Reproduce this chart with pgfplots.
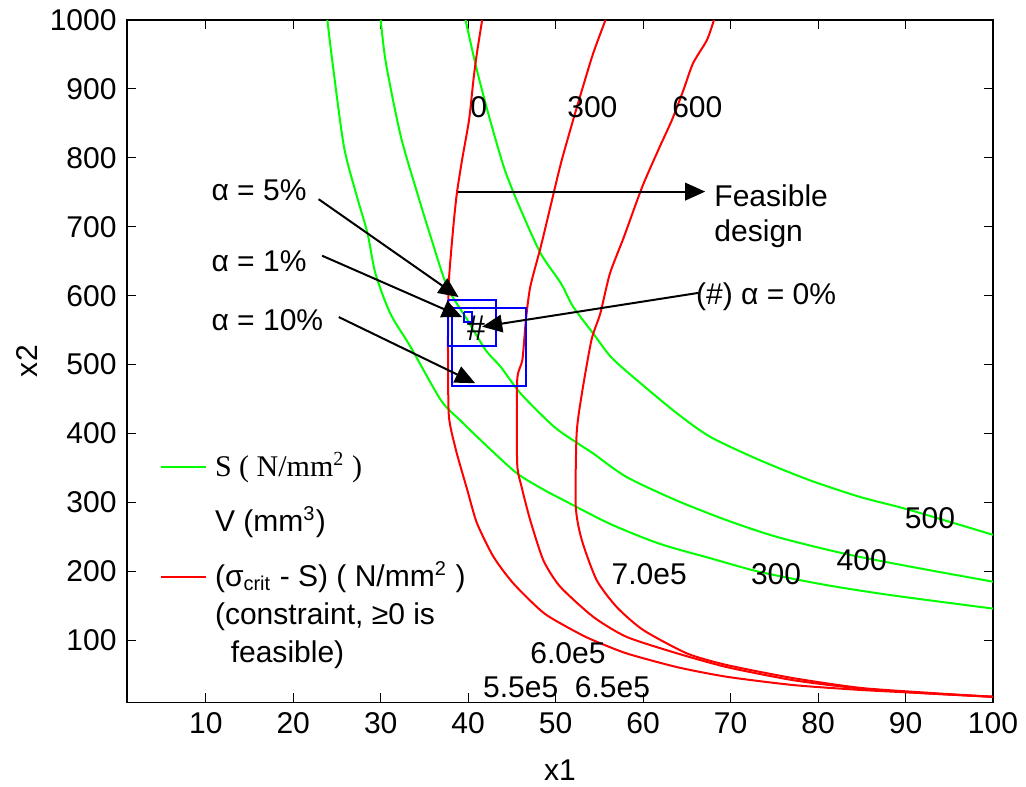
\documentclass[border=0pt]{standalone}
\usepackage{fontspec}
\setmainfont{Liberation Sans}
\newfontfamily\seriffont{Liberation Serif}
\usepackage{pgfplots}
\pgfplotsset{compat=1.18}
\usetikzlibrary{arrows.meta}
\definecolor{sgreen}{RGB}{0,255,0}
\definecolor{cred}{RGB}{255,0,0}
\definecolor{bblue}{RGB}{0,0,255}

\begin{document}
\fontsize{12}{14}\selectfont
\begin{tikzpicture}[
  ann/.style={black, line width=0.8pt, -{Triangle[length=8pt,width=7pt]}},
]
\begin{axis}[
  scale only axis,
  width=346.2pt, height=272.8pt,
  xmin=1, xmax=100, ymin=10, ymax=1000,
  xtick={10,20,...,100}, ytick={100,200,...,1000},
  tick align=inside, tick pos=both,
  major tick length=3.6pt,
  tick style={black, line width=0.4pt},
  axis line style={black, line width=0.5pt},
  font=\fontsize{12}{14}\selectfont,
  /pgf/number format/assume math mode=true,
  /pgf/number format/set thousands separator={},
  xlabel={x1}, ylabel={x2},
  xlabel style={at={(axis description cs:0.5,-0.0997)}, anchor=center},
  ylabel style={at={(axis description cs:-0.1155,0.5)}, anchor=center},
  clip=false,
  every axis plot/.append style={line width=0.8pt},
]
% S contours (green)
\addplot[sgreen, smooth, tension=0.45] coordinates {
(23.9,1000)(24.5,937)(25.8,816)(27.3,743)(28.5,690)(29.4,632)(31.1,574)(33.4,526)
(36.9,448)(39.1,419)(42.2,381)(45.6,342)(48.7,318)(50.5,306)(56.2,269)(61.9,240)
(67.7,219)(73.4,199)(81.0,180)(88.6,165)(100,146)};
\addplot[sgreen, smooth, tension=0.45] coordinates {
(30.0,1000)(30.6,937)(32.3,831)(34.2,748)(35.7,686)(37.6,613)(39.9,565)(42.0,521)
(43.7,497)(46.0,458)(49.8,410)(52.5,386)(54.3,371)(58.1,337)(63.8,303)(69.6,274)
(75.3,250)(82.9,226)(90.5,207)(100,185)};
\addplot[sgreen, smooth, tension=0.45] coordinates {
(39.7,1000)(41.0,927)(42.5,855)(44.2,782)(46.0,725)(48.3,661)(50.6,618)(52.0,584)
(54.3,545)(56.4,510)(59.7,473)(63.9,429)(67.7,395)(73.4,361)(79.1,332)(84.8,308)
(90.5,289)(100,253)};
% constraint contours (red)
\addplot[cred, smooth, tension=0.4] coordinates {
(41.6,1000)(41.0,952)(40.6,913)(40.1,855)(39.3,797)(38.7,748)(38.3,700)(37.8,623)
(37.7,560)(37.7,500)(37.8,424)(38.6,376)(39.9,318)(41.0,270)(42.9,221)(45.2,182)
(48.7,139)(52.5,111)(54.3,100)(58.1,81)(63.9,61)(69.6,47)(77.2,35)(84.8,28)
(92.4,23)(100,18)};
\addplot[cred, smooth, tension=0.4] coordinates {
(55.7,1000)(54.3,952)(53.0,898)(52.0,855)(50.6,792)(49.4,729)(48.3,671)(47.1,613)
(46.6,565)(46.2,507)(45.6,477)(45.6,357)(46.1,323)(47.1,274)(48.6,216)(50.5,178)
(54.3,134)(58.1,105)(63.9,81)(69.6,61)(77.2,42)(84.8,30)(92.4,23)(100,18)};
\addplot[cred, smooth, tension=0.4] coordinates {
(68.1,1000)(67.3,971)(65.7,937)(64.6,898)(63.3,855)(61.9,816)(59.9,758)(57.8,685)
(56.2,632)(55.1,574)(54.1,536)(53.0,458)(52.4,400)(52.3,294)(53.0,245)(54.7,187)
(57.0,148)(60.0,115)(65.0,81)(69.6,64)(77.2,45)(84.8,31)(92.4,24)(100,18)};
% design boxes (blue)
\addplot[bblue] coordinates {(37.7,593.6)(43.2,593.6)(43.2,526.9)(37.7,526.9)(37.7,593.6)};
\addplot[bblue] coordinates {(38.1,581.6)(46.6,581.6)(46.6,468.8)(38.1,468.8)(38.1,581.6)};
\addplot[bblue] coordinates {(39.5,575.8)(40.4,575.8)(40.4,562.1)(39.5,562.1)(39.5,575.8)};

% annotations
\draw[ann] (axis cs:22.9,740) -- (axis cs:38.9,598);
\draw[ann] (axis cs:23.3,658) -- (axis cs:39.3,569);
\draw[ann] (axis cs:25.2,569) -- (axis cs:40.8,473);
\draw[ann] (axis cs:66.3,604) -- (axis cs:41.6,555);
\draw[ann] (axis cs:38.8,751) -- (axis cs:67.1,751);

\node[anchor=west, inner sep=0pt] at (axis cs:10.6,753) {α = 5\%};
\node[anchor=west, inner sep=0pt] at (axis cs:10.6,650) {α = 1\%};
\node[anchor=west, inner sep=0pt] at (axis cs:10.6,565) {α = 10\%};
\node[anchor=west, inner sep=0pt] at (axis cs:66.0,598) {(\#) α = 0\%};
\node[anchor=west, inner sep=0pt, align=left] at (axis cs:68.1,715) {Feasible\\design};
\node[inner sep=0pt] at (axis cs:40.9,553) {\fontsize{15}{15}\selectfont\seriffont\#};

\node[inner sep=0pt] at (axis cs:41.2,874) {0};
\node[inner sep=0pt] at (axis cs:54.2,874) {300};
\node[inner sep=0pt] at (axis cs:66.2,874) {600};
\node[inner sep=0pt] at (axis cs:92.8,277) {500};
\node[inner sep=0pt] at (axis cs:85.0,216) {400};
\node[inner sep=0pt] at (axis cs:75.2,196) {300};
\node[inner sep=0pt] at (axis cs:60.7,196) {7.0e5};
\node[inner sep=0pt] at (axis cs:51.4,81) {6.0e5};
\node[inner sep=0pt] at (axis cs:46.0,32) {5.5e5};
\node[inner sep=0pt] at (axis cs:56.5,32) {6.5e5};

% legend
\draw[sgreen, line width=0.8pt] (axis cs:4.85,351) -- (axis cs:10.0,351);
\node[anchor=west, inner sep=0pt] at (axis cs:11.0,351) {\seriffont S ( N/mm\textsuperscript{2} )};
\node[anchor=west, inner sep=0pt] at (axis cs:11.0,271) {V (mm\textsuperscript{3})};
\draw[cred, line width=0.8pt] (axis cs:4.85,191.6) -- (axis cs:10.0,191.6);
\node[anchor=west, inner sep=0pt] at (axis cs:11.0,191.6) {(σ\textsubscript{crit} - S) ( N/mm\textsuperscript{2} )};
\node[anchor=west, inner sep=0pt] at (axis cs:11.0,133.5) {(constraint, ≥0 is};
\node[anchor=west, inner sep=0pt] at (axis cs:12.8,78.4) {feasible)};

\coordinate (bl) at (rel axis cs:0,0);
\coordinate (tr) at (rel axis cs:1,1);
\end{axis}
\pgfresetboundingbox
\path ([shift={(-50.8pt,-33.6pt)}]bl) rectangle ([shift={(13.2pt,8pt)}]tr);
\end{tikzpicture}
\end{document}
